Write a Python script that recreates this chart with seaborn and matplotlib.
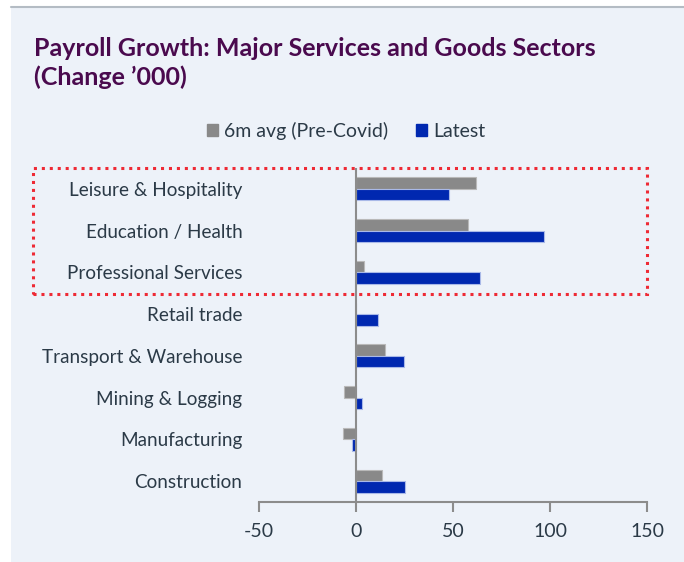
import matplotlib
matplotlib.use("Agg")
import matplotlib.pyplot as plt
import matplotlib.patches as mpatches
import matplotlib.transforms as mtransforms
import seaborn as sns
import pandas as pd

sectors = ["Leisure & Hospitality", "Education / Health", "Professional Services",
           "Retail trade", "Transport & Warehouse", "Mining & Logging",
           "Manufacturing", "Construction"]
avg_precovid = [62, 57.5, 4, 0, 15, -6, -6.5, 13.5]
latest = [48, 97, 64, 11.5, 24.5, 3, -2, 25]
series_names = ["6m avg (Pre-Covid)", "Latest"]
x_ticks = [-50, 0, 50, 100, 150]

df = pd.DataFrame({
    "sector": sectors * 2,
    "value": avg_precovid + latest,
    "series": [series_names[0]] * len(sectors) + [series_names[1]] * len(sectors),
})

sns.set_theme(style="white")
plt.rcParams["font.family"] = ["Lato", "DejaVu Sans"]

W, H = 684, 562
fig = plt.figure(figsize=(W / 100, H / 100), dpi=100, facecolor="white")
bg = "#EDF2F9"
# panel background
fig.patches.append(mpatches.Rectangle((11 / W, 0), 1 - 11 / W, (H - 7) / H,
                                      transform=fig.transFigure, facecolor=bg,
                                      edgecolor="none", zorder=-10))
fig.lines.append(plt.Line2D([11 / W, 1], [(H - 7) / H, (H - 7) / H],
                            transform=fig.transFigure, color="#b4bcc4", lw=1.5,
                            zorder=-9))

ax = fig.add_axes([259 / W, 1 - 502 / H, (647 - 259) / W, (502 - 168) / H])
ax.set_facecolor("none")

palette = {series_names[0]: "#898989", series_names[1]: "#0028B0"}
sns.barplot(data=df, x="value", y="sector", hue="series", order=sectors,
            hue_order=series_names, palette=palette, orient="h", width=0.55,
            saturation=1, ax=ax, legend=False)
for i, p in enumerate(ax.patches):
    if i < len(sectors):
        p.set_edgecolor("#b9b9b9")
    else:
        p.set_edgecolor("#a9b9e8")
    p.set_linewidth(0.8)

ax.set_xlim(-50, 150)
ax.set_ylim(len(sectors) - 0.5, -0.5)
ax.set_xticks(x_ticks)
ax.set_xticklabels([str(t) for t in x_ticks])
ax.set_xlabel("")
ax.set_ylabel("")
ax.axvline(0, color="#8c8c8c", lw=1.5, zorder=3)
for s in ["top", "right", "left"]:
    ax.spines[s].set_visible(False)
ax.spines["bottom"].set_color("#8c8c8c")
ax.spines["bottom"].set_linewidth(1.5)
ax.tick_params(axis="x", direction="out", length=7, width=1.5, color="#8c8c8c",
               labelsize=14, labelcolor="#2b3a47", pad=8, bottom=True)
ax.tick_params(axis="y", length=0, labelsize=13.6, labelcolor="#2b3a47", pad=12)
ax.grid(False)

# dotted highlight box around the top three services sectors
trans = mtransforms.blended_transform_factory(fig.transFigure, ax.transData)
ax.add_patch(mpatches.Rectangle((33 / W, 2.52), (647 - 33) / W, -3.03,
                                transform=trans, fill=False, edgecolor="#ee2a35",
                                linestyle=(0, (1, 1.6)), lw=2.2, clip_on=False, zorder=5))

fig.text(34 / W, 1 - 48 / H, "Payroll Growth: Major Services and Goods Sectors",
         fontsize=18, fontweight="bold", color="#4a0a4e", va="center", ha="left")
fig.text(34 / W, 1 - 77 / H, "(Change \u2019000)",
         fontsize=18, fontweight="bold", color="#4a0a4e", va="center", ha="left")

handles = [mpatches.Patch(color=palette[n], label=n) for n in series_names]
fig.legend(handles=handles, loc="center", bbox_to_anchor=(346 / W, 1 - 131 / H),
           ncol=2, frameon=False, fontsize=14, handlelength=0.6, handleheight=0.6,
           handletextpad=0.3, columnspacing=1.4, labelcolor="#2b3a47")

fig.savefig("out.png", dpi=100, facecolor="white")
